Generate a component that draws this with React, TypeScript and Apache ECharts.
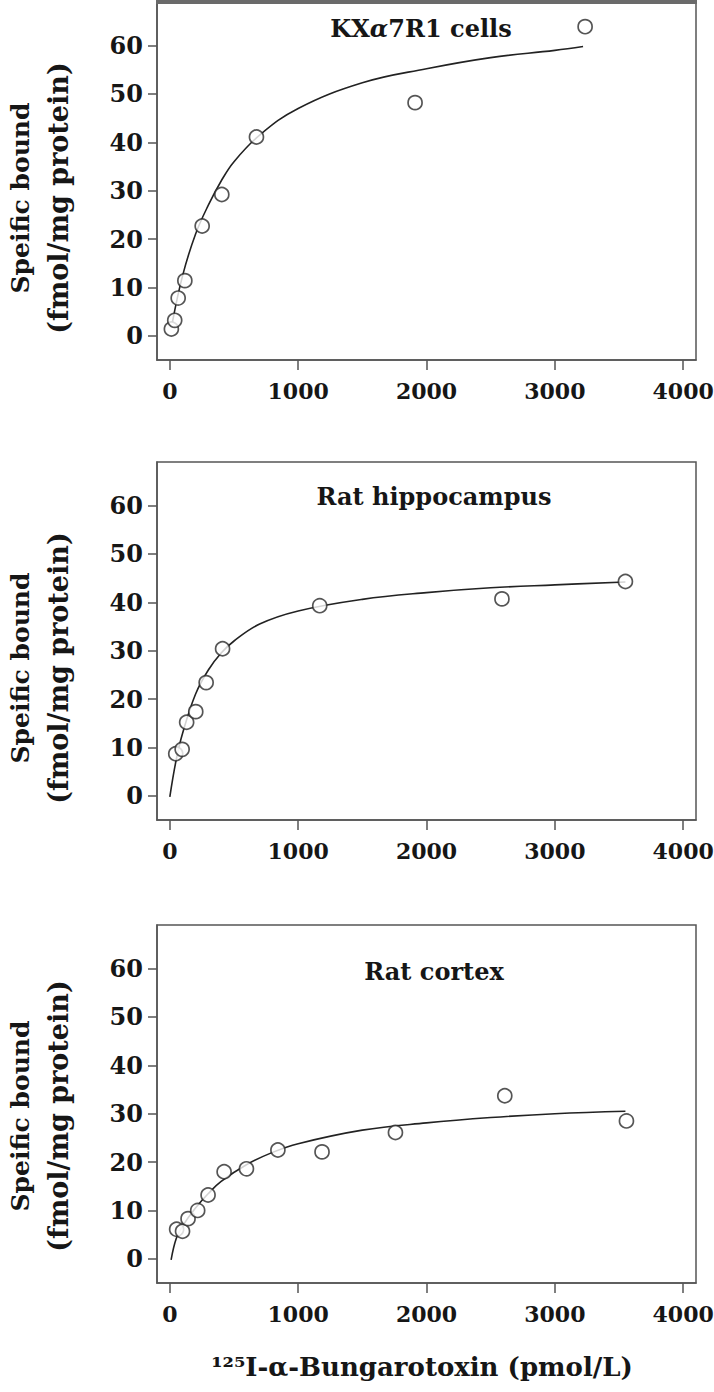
import React, { useEffect, useRef } from "react";
import * as echarts from "echarts";

// ---- data ----
const xTickValues = [0, 1000, 2000, 3000, 4000];
const yTickValues = [0, 10, 20, 30, 40, 50, 60];

const panelTitles = ["KX{i|α}7R1 cells", "Rat hippocampus", "Rat cortex"];
const yTitleLine1 = "Speific bound";
const yTitleLine2 = "(fmol/mg protein)";
const xTitle = "¹²⁵I-α-Bungarotoxin (pmol/L)";

// Panel 1: KXα7R1 cells
const kxConc = [12, 38, 65, 117, 252, 405, 675, 1911, 3236];
const kxBound = [1.4, 3.2, 7.8, 11.4, 22.7, 29.2, 41.1, 48.2, 63.9];
const kxFitConc = [20, 100, 200, 300, 400, 500, 700, 1000, 1500, 2000, 2500, 3000, 3220];
const kxFitBound = [2.8, 12.5, 21, 27, 32, 36, 41.5, 47, 52.3, 55.2, 57.5, 59, 59.8];

// Panel 2: rat hippocampus
const hipConc = [46, 96, 131, 202, 283, 411, 1168, 2588, 3550];
const hipBound = [8.7, 9.6, 15.2, 17.4, 23.4, 30.4, 39.3, 40.7, 44.3];
const hipFitConc = [0, 50, 100, 200, 300, 400, 500, 700, 1000, 1500, 2000, 2500, 3000, 3550];
const hipFitBound = [-0.2, 7.5, 13, 21, 26, 29.5, 32, 35.5, 38.2, 40.6, 42, 43, 43.6, 44.2];

// Panel 3: rat cortex
const ctxConc = [53, 99, 142, 217, 298, 423, 597, 842, 1186, 1758, 2610, 3558];
const ctxBound = [6.1, 5.7, 8.3, 10.0, 13.2, 18.0, 18.6, 22.5, 22.1, 26.1, 33.7, 28.5];
const ctxFitConc = [10, 50, 100, 200, 300, 400, 600, 800, 1000, 1500, 2000, 2500, 3000, 3550];
const ctxFitBound = [-0.2, 4.2, 6.8, 10.5, 13.5, 16, 19.5, 22, 23.8, 26.6, 28.1, 29.2, 30, 30.5];

const panels = [
  { conc: kxConc, bound: kxBound, fitConc: kxFitConc, fitBound: kxFitBound },
  { conc: hipConc, bound: hipBound, fitConc: hipFitConc, fitBound: hipFitBound },
  { conc: ctxConc, bound: ctxBound, fitConc: ctxFitConc, fitBound: ctxFitBound },
];

// ---- layout / style ----
const FONT = "DejaVu Serif";
const GRID_LEFT = 157;
const GRID_RIGHT = 18;
const GRID_H = 358;
const gridTops = [2, 462, 925];
const titlePos = [
  [421, 28],
  [434, 496],
  [434, 971],
];
const yTitleCenters = [198, 668, 1116];
const AXIS_COLOR = "#555555";
const TEXT_COLOR = "#161616";

export default function App() {
  const ref = useRef<HTMLDivElement>(null);

  useEffect(() => {
    if (!ref.current) return;
    const chart = echarts.init(ref.current, undefined, { renderer: "svg" });

    const grids = gridTops.map((top) => ({
      left: GRID_LEFT,
      right: GRID_RIGHT,
      top,
      height: GRID_H,
      show: true,
      borderColor: AXIS_COLOR,
      borderWidth: 1.5,
      backgroundColor: "transparent",
      containLabel: false,
      outerBoundsMode: "none",
    }));

    const xAxes = gridTops.map((_, i) => ({
      type: "value",
      gridIndex: i,
      min: -100,
      max: 4100,
      axisLine: { show: true, onZero: false, lineStyle: { color: AXIS_COLOR, width: 1.5 } },
      axisTick: {
        show: true,
        inside: false,
        length: 10,
        customValues: xTickValues,
        lineStyle: { color: AXIS_COLOR, width: 1.5 },
      },
      axisLabel: {
        show: true,
        customValues: xTickValues,
        formatter: (v: number) => String(v),
        margin: 20,
        fontFamily: FONT,
        fontWeight: "bold",
        fontSize: 22,
        color: TEXT_COLOR,
      },
      splitLine: { show: false },
    }));

    const yAxes = gridTops.map((_, i) => ({
      type: "value",
      gridIndex: i,
      min: -5,
      max: 69,
      axisLine: { show: true, onZero: false, lineStyle: { color: AXIS_COLOR, width: 1.5 } },
      axisTick: {
        show: true,
        inside: false,
        length: 9,
        customValues: yTickValues,
        lineStyle: { color: AXIS_COLOR, width: 1.5 },
      },
      axisLabel: {
        show: true,
        customValues: yTickValues,
        formatter: (v: number) => String(v),
        margin: 14,
        fontFamily: FONT,
        fontWeight: "bold",
        fontSize: 24,
        color: TEXT_COLOR,
      },
      splitLine: { show: false },
    }));

    const series: any[] = [];
    panels.forEach((p, i) => {
      series.push({
        type: "line",
        xAxisIndex: i,
        yAxisIndex: i,
        data: p.fitConc.map((x, k) => [x, p.fitBound[k]]),
        smooth: 0.4,
        showSymbol: false,
        symbol: "none",
        lineStyle: { color: "#222", width: 1.6 },
        z: 2,
      });
      series.push({
        type: "scatter",
        xAxisIndex: i,
        yAxisIndex: i,
        data: p.conc.map((x, k) => [x, p.bound[k]]),
        symbol: "circle",
        symbolSize: 14,
        itemStyle: { color: "#ffffff", borderColor: "#2a2a2a", borderWidth: 1.7 },
        z: 3,
      });
    });

    const graphics: any[] = [];
    // thick top edge of the first panel
    graphics.push({
      type: "rect",
      shape: { x: GRID_LEFT - 1, y: 0, width: 714 - GRID_RIGHT - GRID_LEFT + 2, height: 4 },
      style: { fill: "#6a6a6a" },
      z: 10,
    });
    panelTitles.forEach((t, i) => {
      graphics.push({
        type: "text",
        x: titlePos[i][0],
        y: titlePos[i][1],
        style: {
          text: t,
          fontFamily: FONT,
          fontWeight: "bold",
          fontSize: 24,
          fill: TEXT_COLOR,
          align: "center",
          verticalAlign: "middle",
          rich: {
            i: { fontFamily: FONT, fontWeight: "bold", fontStyle: "italic", fontSize: 24, fill: TEXT_COLOR },
          },
        },
        z: 10,
      });
    });
    yTitleCenters.forEach((cy) => {
      graphics.push({
        type: "text",
        x: 20,
        y: cy,
        rotation: Math.PI / 2,
        style: {
          text: yTitleLine1,
          fontFamily: FONT,
          fontWeight: "bold",
          fontSize: 25,
          fill: TEXT_COLOR,
          align: "center",
          verticalAlign: "middle",
        },
        z: 10,
      });
      graphics.push({
        type: "text",
        x: 58,
        y: cy,
        rotation: Math.PI / 2,
        style: {
          text: yTitleLine2,
          fontFamily: FONT,
          fontWeight: "bold",
          fontSize: 27,
          fill: TEXT_COLOR,
          align: "center",
          verticalAlign: "middle",
        },
        z: 10,
      });
    });
    graphics.push({
      type: "text",
      x: 422,
      y: 1367,
      style: {
        text: xTitle,
        fontFamily: FONT,
        fontWeight: "bold",
        fontSize: 26,
        fill: TEXT_COLOR,
        align: "center",
        verticalAlign: "middle",
      },
      z: 10,
    });

    chart.setOption({
      animation: false,
      backgroundColor: "#ffffff",
      grid: grids,
      xAxis: xAxes,
      yAxis: yAxes,
      series,
      graphic: graphics,
    });

    return () => {
      chart.dispose();
    };
  }, []);

  return (
    <div
      ref={ref}
      style={{ position: "fixed", left: 0, top: 0, width: 714, height: 1392, background: "#fff" }}
    />
  );
}
